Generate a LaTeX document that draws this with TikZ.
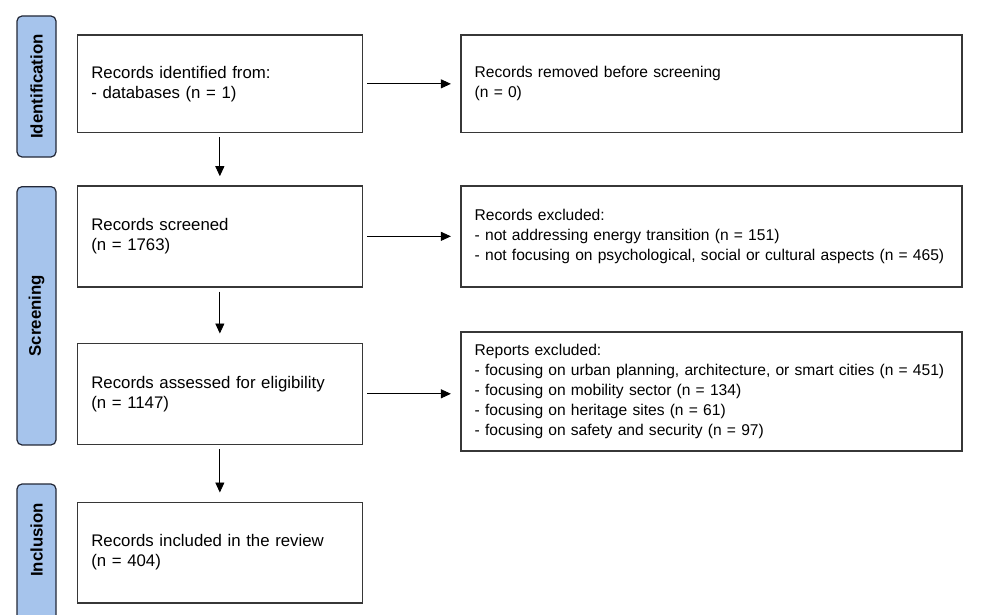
\documentclass[tikz,border=0pt]{standalone}
\usepackage{fontspec}
\setmainfont{Liberation Sans}
\usetikzlibrary{arrows.meta}
\definecolor{phaseblue}{RGB}{166,196,236}
\definecolor{boxline}{RGB}{55,55,55}
\definecolor{phaseline}{RGB}{35,40,55}

\begin{document}
\begin{tikzpicture}[x=1pt, y=-1pt,
    recbox/.style={draw=boxline, line width=1.6pt, rectangle, inner xsep=14pt, inner ysep=0pt,
        align=left, font=\fontsize{16.8}{20}\selectfont},
    widebox/.style={recbox, font=\fontsize{15.6}{20}\selectfont},
    phase/.style={draw=phaseline, line width=1.2pt, fill=phaseblue, rounded corners=5pt,
        rotate=90, minimum height=39pt, font=\bfseries\fontsize{16.8}{20}\selectfont},
    flow/.style={-{Triangle[length=10pt, width=9pt]}, line width=0.9pt, shorten <=4pt, shorten >=9pt}]
    \useasboundingbox[fill=white] (0,0) rectangle (1006,615);

            % Fasi
            \foreach \nome/\y/\len/\testo in {idl/86.5/141/Identification, scl/315.8/258.3/Screening} {
                    \node[phase, minimum width=\len pt] (\nome) at (36.5,\y) {\testo};
                }
            \draw[draw=phaseline, line width=1.2pt, fill=phaseblue, rounded corners=5pt] (17,640) rectangle (56,484);
            \node[rotate=90, font=\bfseries\fontsize{16.8}{20}\selectfont] (incl) at (36.5,540) {Inclusion};

            % Riquadri
            \foreach \nome/\stile/\x/\y/\w/\h/\testo in {
                    id/recbox/219.85/83.85/257/97.7/{Records identified from:\\- databases (n = 1)},
                    rem/widebox/711.2/83.85/473/97.7/{Records removed before screening\\(n = 0)},
                    scr/recbox/219.85/236.35/257/100.7/{Records screened\\(n = 1763)},
                    exc/widebox/711.2/236.35/473/100.7/{Records excluded:\\- not addressing energy transition (n = 151)\\\mbox{- not focusing on psychological, social or cultural aspects (n = 465)}},
                    elig/recbox/219.85/393.8/257/101/{Records assessed for eligibility\\(n = 1147)},
                    rep/widebox/711.2/391.2/473/119/{Reports excluded:\\\mbox{- focusing on urban planning, architecture, or smart cities (n = 451)}\\- focusing on mobility sector (n = 134)\\- focusing on heritage sites (n = 61)\\- focusing on safety and security (n = 97)},
                    inc/recbox/219.85/552.5/257/100.4/{Records included in the review\\(n = 404)}} {
                    \node[\stile, text width=\w pt, minimum height=\h pt] (\nome) at (\x,\y) {\testo};
                }

            % Frecce
            \foreach \a/\b in {id/rem, scr/exc, id/scr, scr/elig, elig/inc} {
                    \draw[flow] (\a) -- (\b);
                }
            \draw[flow] (elig.east) -- (rep.west |- elig.east);
        \end{tikzpicture}
\end{document}
